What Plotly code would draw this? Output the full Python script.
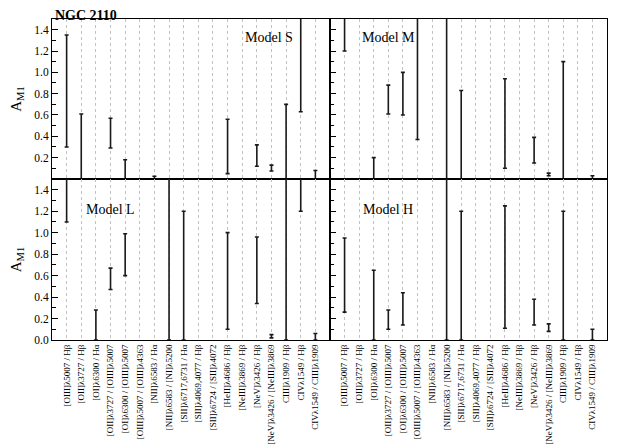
import plotly.graph_objects as go

labels = ["[OIII]λ5007 / Hβ", "[OII]λ3727 / Hβ", "[OI]λ6300 / Hα",
          "[OII]λ3727 / [OIII]λ5007", "[OI]λ6300 / [OIII]λ5007",
          "[OIII]λ5007 / [OIII]λ4363", "[NII]λ6583 / Hα", "[NII]λ6583 / [NI]λ5200",
          "[SII]λ6717,6731 / Hα", "[SII]λ4069,4077 / Hβ", "[SII]λ6724 / [SII]λ4072",
          "[HeII]λ4686 / Hβ", "[NeIII]λ3869 / Hβ", "[NeV]λ3426 / Hβ",
          "[NeV]λ3426 / [NeIII]λ3869", "CIII]λ1909 / Hβ", "CIVλ1549 / Hβ",
          "CIVλ1549 / CIII]λ1909"]

# lower / upper limits of A_M1 for each ratio (None = no constraint)
S_lo = [0.30, 0.00, None, 0.29, 0.00, None, 0.00, None, None, None, None, 0.05, None, 0.12, 0.075, 0.00, 0.63, 0.00]
S_hi = [1.35, 0.61, None, 0.57, 0.18, None, 0.025, None, None, None, None, 0.56, None, 0.32, 0.13, 0.70, 1.60, 0.08]

M_lo = [1.20, None, 0.00, 0.61, 0.60, 0.37, None, 0.00, 0.00, None, None, 0.10, None, 0.15, 0.03, 0.00, None, 0.00]
M_hi = [1.60, None, 0.20, 0.88, 1.00, 1.60, None, 1.60, 0.83, None, None, 0.94, None, 0.39, 0.055, 1.10, None, 0.03]

L_lo = [1.10, None, 0.00, 0.47, 0.60, None, None, 0.00, 0.00, None, None, 0.10, None, 0.34, 0.02, 0.00, 1.20, 0.00]
L_hi = [1.60, None, 0.28, 0.67, 0.99, None, None, 1.60, 1.20, None, None, 1.00, None, 0.96, 0.05, 1.60, 1.60, 0.06]

H_lo = [0.26, None, 0.00, 0.10, 0.14, None, None, 0.00, 0.00, None, None, 0.11, None, 0.14, 0.08, 0.00, None, 0.00]
H_hi = [0.95, None, 0.65, 0.28, 0.44, None, None, 1.60, 1.20, None, None, 1.25, None, 0.38, 0.15, 1.20, None, 0.10]

panels = [("Model S", S_lo, S_hi, "x", "y", 14.85, 1.33),
          ("Model M", M_lo, M_hi, "x2", "y2", 4.0, 1.33),
          ("Model L", L_lo, L_hi, "x3", "y3", 4.0, 1.22),
          ("Model H", H_lo, H_hi, "x4", "y4", 4.0, 1.22)]

cats = list(range(1, len(labels) + 1))
serif = "Liberation Serif, Times New Roman, serif"

fig = go.Figure()
for name, lo, hi, xa, ya, tx, ty in panels:
    xs, ys, up = [], [], []
    for c, a, b in zip(cats, lo, hi):
        if a is None:
            continue
        xs.append(c)
        ys.append(a)
        up.append(b - a)
    fig.add_trace(go.Scatter(
        x=xs, y=ys, xaxis=xa, yaxis=ya, mode="markers",
        marker=dict(size=1, color="rgba(0,0,0,0)"),
        error_y=dict(type="data", symmetric=False, array=up,
                     arrayminus=[0] * len(up), width=2, thickness=1.6,
                     color="#1a1a1a"),
        showlegend=False, hoverinfo="skip"))
    fig.add_annotation(x=tx, y=ty, xref=xa, yref=ya, text=name, showarrow=False,
                       font=dict(family=serif, size=14, color="black"))

xdom = [[0, 0.5009], [0.5009, 1]]
ydom = [[0.5016, 1], [0, 0.5016]]

axis_common = dict(showline=True, linecolor="black", linewidth=1, mirror=True,
                   automargin=False)
layout = {}
for i, (col, row) in enumerate([(0, 0), (1, 0), (0, 1), (1, 1)]):
    k = "" if i == 0 else str(i + 1)
    bottom = row == 1
    left = col == 0
    xa = dict(
        domain=xdom[col], anchor="y" + k, range=[0, 19],
        tickmode="array", tickvals=cats,
        showticklabels=bottom, tickangle=-90, ticks="",
        tickfont=dict(family=serif, size=9, color="black"),
        showgrid=True, gridcolor="#c2c2c2", griddash="dot", gridwidth=1,
        zeroline=False, **axis_common)
    if bottom:
        xa["ticktext"] = labels
    layout["xaxis" + k] = xa
    yvals = [0.0, 0.2, 0.4, 0.6, 0.8, 1.0, 1.2, 1.4] if bottom else [0.2, 0.4, 0.6, 0.8, 1.0, 1.2, 1.4]
    ya = dict(
        domain=ydom[row], anchor="x" + k, range=[0, 1.5],
        tickmode="array", tickvals=yvals,
        ticktext=["%.1f" % v for v in yvals],
        showticklabels=left, ticks="inside", ticklen=6, tickcolor="black",
        minor=dict(ticks="inside", ticklen=4, tickcolor="black",
                   tickmode="array", tickvals=[0.1, 0.3, 0.5, 0.7, 0.9, 1.1, 1.3]),
        tickfont=dict(family=serif, size=11.5, color="black"),
        showgrid=False, zeroline=False, **axis_common)
    if left:
        ya["title"] = dict(text="A<sub>M1</sub>",
                           font=dict(family=serif, size=15, color="black"), standoff=12)
    layout["yaxis" + k] = ya

# the page body adds an 8px offset, so the figure is 8px smaller
fig.update_layout(
    width=609, height=437,
    margin=dict(l=44, r=10, t=11, b=105),
    paper_bgcolor="white", plot_bgcolor="white",
    font=dict(family=serif, color="black"),
    **layout)

fig.add_annotation(x=0, y=1, xref="paper", yref="paper", xanchor="left",
                   yanchor="bottom", yshift=-5, xshift=2, borderpad=0,
                   text="<b>NGC 2110</b>",
                   showarrow=False, font=dict(family=serif, size=14, color="black"))

fig.write_html("out.html")
